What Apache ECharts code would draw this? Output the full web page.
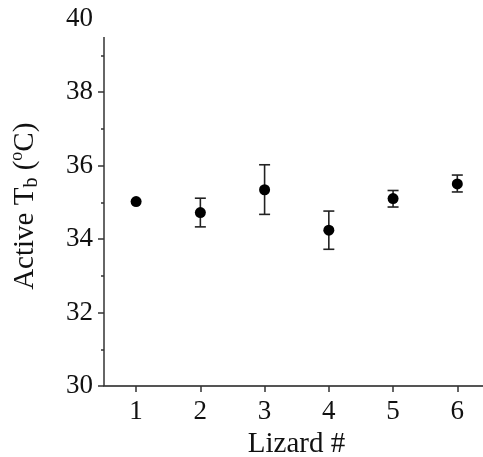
<!DOCTYPE html>
<html>
<head>
<meta charset="utf-8">
<script src="https://cdn.jsdelivr.net/npm/echarts@6/dist/echarts.min.js"></script>
<style>
  html, body { margin: 0; padding: 0; background: #fff; }
  #chart { width: 483px; height: 457px; }
</style>
</head>
<body>
<div id="chart"></div>
<script>
// lizard number and active body temperature (mean, error bar ends)
const lizards = [1, 2, 3, 4, 5, 6];
const meanTb = [35.02, 34.72, 35.34, 34.24, 35.10, 35.50];
const lowTb = [35.02, 34.33, 34.67, 33.72, 34.87, 35.28];
const highTb = [35.02, 35.11, 36.02, 34.76, 35.32, 35.74];
const yTicks = [30, 32, 34, 36, 38];
const yLabels = [30, 32, 34, 36, 38, 40];
const yMinor = [31, 33, 35, 37, 39];

const font = 'Liberation Serif';
const ink = '#111';

const chart = echarts.init(document.getElementById('chart'));

const points = lizards.map((x, i) => [x, meanTb[i]]);
const bars = lizards.map((x, i) => [x, lowTb[i], highTb[i]]);

// draws a vertical error bar with caps
const renderBar = (params, api) => {
  const lo = api.coord([api.value(0), api.value(1)]);
  const hi = api.coord([api.value(0), api.value(2)]);
  if (Math.abs(hi[1] - lo[1]) < 1) return null;
  const w = 5.5;
  const style = { stroke: '#222', lineWidth: 1.6 };
  return {
    type: 'group',
    children: [
      { type: 'line', shape: { x1: lo[0], y1: lo[1], x2: hi[0], y2: hi[1] }, style },
      { type: 'line', shape: { x1: lo[0] - w, y1: lo[1], x2: lo[0] + w, y2: lo[1] }, style },
      { type: 'line', shape: { x1: hi[0] - w, y1: hi[1], x2: hi[0] + w, y2: hi[1] }, style }
    ]
  };
};

chart.setOption({
  backgroundColor: '#fff',
  animation: false,
  grid: { left: 104, right: 0, top: 18.5, bottom: 71, containLabel: false, outerBoundsMode: 'none' },
  xAxis: {
    type: 'value',
    min: 0.5,
    max: 6.4,
    name: 'Lizard #',
    nameLocation: 'middle',
    nameGap: 41,
    nameTextStyle: { fontFamily: font, fontSize: 29, color: ink, padding: [0, 0, 0, 6] },
    axisLine: { show: true, onZero: false, lineStyle: { color: '#555', width: 2 } },
    axisTick: { show: true, customValues: lizards, length: 6, lineStyle: { color: '#333', width: 1.5 } },
    axisLabel: { customValues: lizards, margin: 12, fontFamily: font, fontSize: 27, color: ink },
    splitLine: { show: false }
  },
  yAxis: [
    {
      type: 'value',
      min: 30,
      max: 40,
      name: '{m|Active T}{sub|b}{m| (}{sup|o}{m|C)}',
      nameLocation: 'middle',
      nameGap: 62,
      nameTextStyle: {
        padding: [0, 8, 0, 0],
        rich: {
          m: { fontFamily: font, fontSize: 29, color: ink, lineHeight: 34, verticalAlign: 'middle' },
          sub: { fontFamily: font, fontSize: 20, color: ink, lineHeight: 34, verticalAlign: 'bottom' },
          sup: { fontFamily: font, fontSize: 18, color: ink, lineHeight: 34, verticalAlign: 'top' }
        }
      },
      axisLine: { show: false },
      axisTick: { show: true, customValues: yTicks, length: 6, lineStyle: { color: '#333', width: 1.5 } },
      axisLabel: { customValues: yLabels, margin: 11, fontFamily: font, fontSize: 27, color: ink },
      splitLine: { show: false }
    },
    {
      type: 'value',
      min: 30,
      max: 40,
      position: 'left',
      axisLine: { show: false },
      axisTick: { show: true, customValues: yMinor, length: 3, lineStyle: { color: '#333', width: 1.5 } },
      axisLabel: { show: false },
      splitLine: { show: false }
    }
  ],
  series: [
    {
      type: 'custom',
      renderItem: renderBar,
      data: bars,
      encode: { x: 0, y: [1, 2] },
      z: 2
    },
    {
      type: 'scatter',
      data: points,
      symbol: 'circle',
      symbolSize: 11,
      itemStyle: { color: '#000', opacity: 1 },
      z: 3,
      markLine: {
        silent: true,
        symbol: 'none',
        label: { show: false },
        lineStyle: { color: '#333', width: 1.5, type: 'solid' },
        data: [[{ coord: [0.5, 30] }, { coord: [0.5, 39.5] }]]
      }
    }
  ]
});
</script>
</body>
</html>
